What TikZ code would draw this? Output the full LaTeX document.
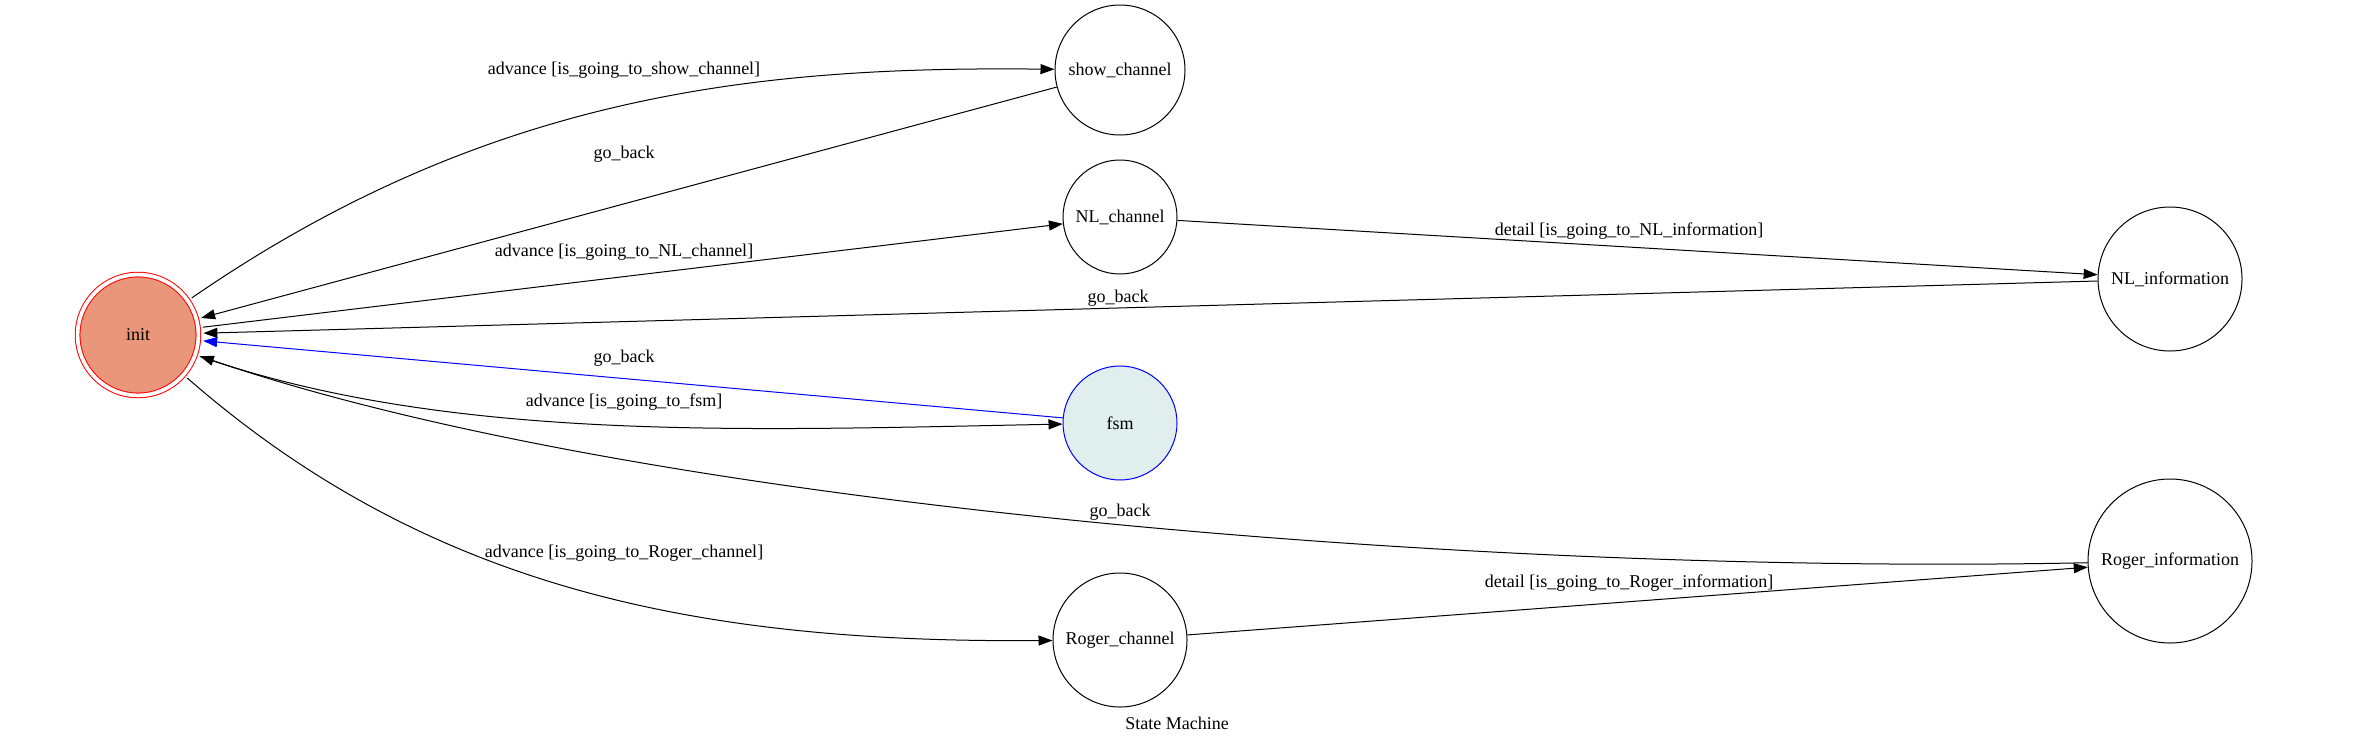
\documentclass[tikz,border=0pt]{standalone}
\usepackage{fontspec}
\setmainfont{Liberation Serif}
\usetikzlibrary{arrows.meta}
\definecolor{initfill}{HTML}{E9967A}
\definecolor{fsmfill}{HTML}{E0EEEE}

\begin{document}
\begin{tikzpicture}[x=0.5pt,y=-0.5pt,font=\fontsize{9}{11}\selectfont,
  state/.style={draw,circle,line width=0.5pt,inner sep=0pt},
  tr/.style={line width=0.5pt,-{Triangle[length=7pt,width=5pt]}},
  lbl/.style={inner sep=0pt}]
% Keep the margins of the whole graph
\useasboundingbox (0,0) rectangle (2354,745);
% Start state on the left, drawn as a double circle
\node [state,draw=red,fill=initfill,double,double distance=1.85pt,minimum size=60.4pt,outer sep=2.5pt] (init) at (138,335) {init};
% Middle column of states
\node [state,minimum size=65pt] (show) at (1120,70) {show\_channel};
\node [state,minimum size=57pt] (nlch) at (1120,217) {NL\_channel};
\node [state,draw=blue,fill=fsmfill,minimum size=57pt] (fsm) at (1120,423) {fsm};
\node [state,minimum size=67pt] (rgch) at (1120,640) {Roger\_channel};
% Right column of states
\node [state,minimum size=72pt] (nlinf) at (2170,279) {NL\_information};
\node [state,minimum size=82pt] (rginf) at (2170,561) {Roger\_information};
% Edges leaving init
\draw [tr] (init) .. controls (489,93) and (760,66) .. (show);
\draw [tr] (init) -- (nlch);
\draw [tr] (init) .. controls (450,443) and (750,430) .. (fsm);
\draw [tr] (init) .. controls (430,590) and (700,643) .. (rgch);
% Edges going back to init
\draw [tr] (show) -- (init);
\draw [tr] (nlinf) -- (init);
\draw [tr,blue] (fsm) -- (init);
\draw [tr] (rginf) .. controls (1500,575) and (650,510) .. (init);
% Detail edges to the right column
\draw [tr] (nlch) -- (nlinf);
\draw [tr] (rgch) -- (rginf);
% Edge labels
\node [lbl] (l1) at (624,70) {advance [is\_going\_to\_show\_channel]};
\node [lbl] (l2) at (624,154) {go\_back};
\node [lbl] (l3) at (624,252) {advance [is\_going\_to\_NL\_channel]};
\node [lbl] (l4) at (1629,231) {detail [is\_going\_to\_NL\_information]};
\node [lbl] (l5) at (1118,298) {go\_back};
\node [lbl] (l6) at (624,358) {go\_back};
\node [lbl] (l7) at (624,402) {advance [is\_going\_to\_fsm]};
\node [lbl] (l8) at (1120,512) {go\_back};
\node [lbl] (l9) at (624,553) {advance [is\_going\_to\_Roger\_channel]};
\node [lbl] (l10) at (1629,583) {detail [is\_going\_to\_Roger\_information]};
% Graph title
\node [lbl] (title) at (1177,723) {State Machine};
\end{tikzpicture}
\end{document}
